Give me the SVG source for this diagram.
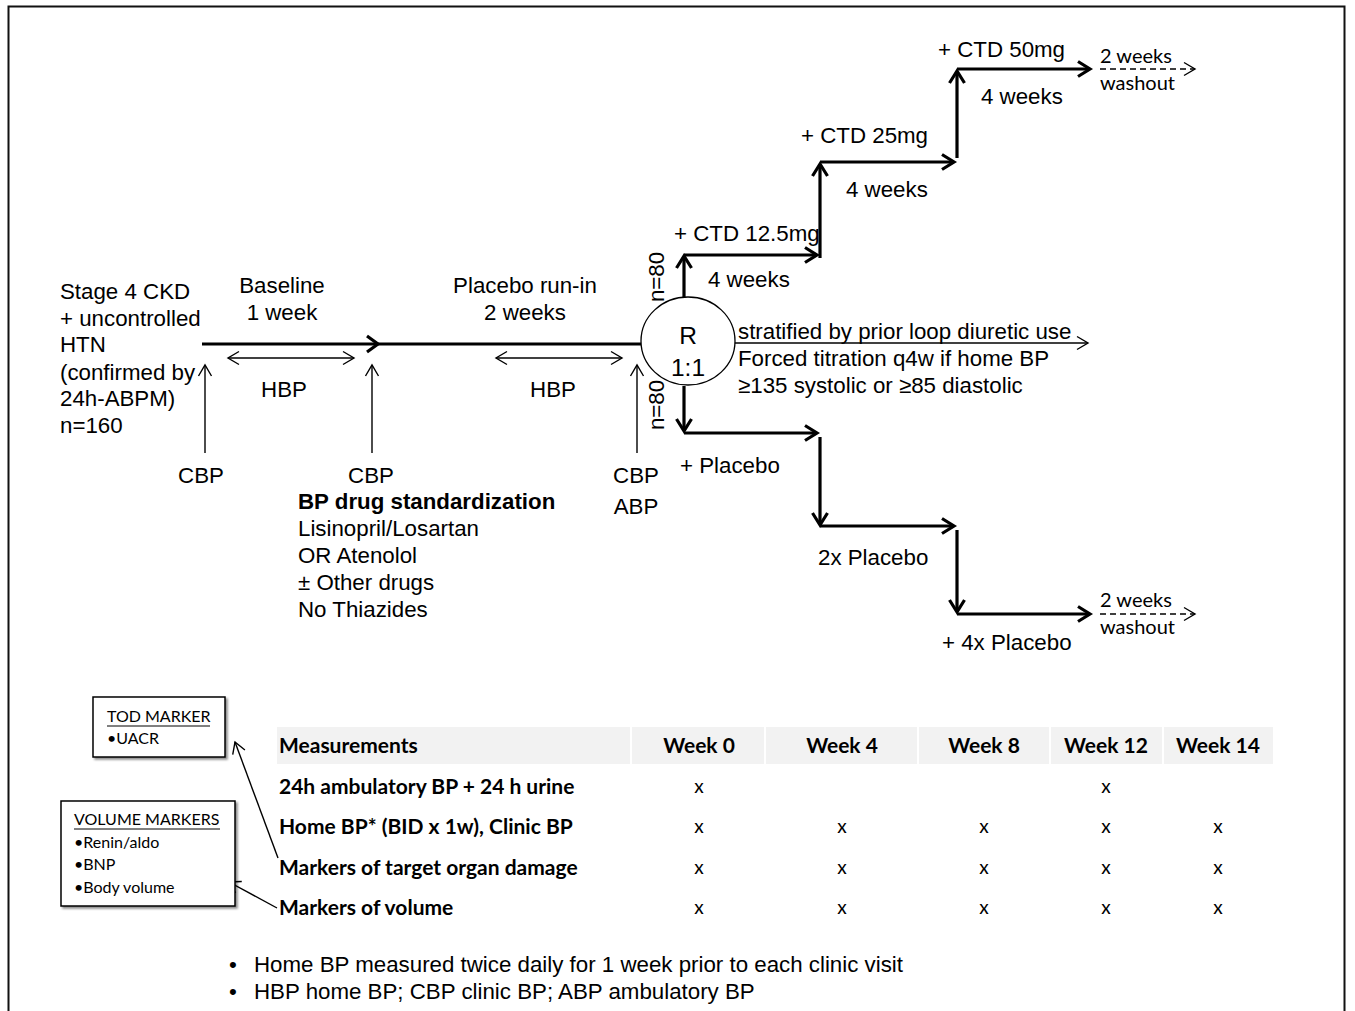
<svg xmlns="http://www.w3.org/2000/svg" width="1355" height="1011" viewBox="0 0 1355 1011">
<style>
.t{font-family:"Liberation Sans",Arial,sans-serif;font-size:22.3px;fill:#000}
.c{text-anchor:middle}
.b{font-weight:bold}
.big{font-size:24.5px}
.k{font-family:Lato,"Open Sans",sans-serif;fill:#000}
.th{font-size:21px;font-weight:bold}
.tc{font-size:19px}
.sm{font-size:20px}
.thick{stroke:#000;stroke-width:3.2;fill:none}
.thin{stroke:#000;stroke-width:1.4;fill:none}
.dash{stroke:#000;stroke-width:1.4;fill:none;stroke-dasharray:6 4}
.box{fill:#fff;stroke:#000;stroke-width:1.5}
.hd{fill:#f2f2f2}
</style>
<defs>
<marker id="ah" markerUnits="userSpaceOnUse" viewBox="-16 -10 20 20" markerWidth="20" markerHeight="20" refX="0" refY="0" orient="auto">
<path d="M-12,-7.5 L0,0 L-12,7.5" fill="none" stroke="#000" stroke-width="3.2"/>
</marker>
<marker id="at" markerUnits="userSpaceOnUse" viewBox="-14 -9 18 18" markerWidth="18" markerHeight="18" refX="0" refY="0" orient="auto">
<path d="M-11,-6.5 L0,0 L-11,6.5" fill="none" stroke="#000" stroke-width="1.4"/>
</marker>
<marker id="at2" markerUnits="userSpaceOnUse" viewBox="-14 -9 18 18" markerWidth="18" markerHeight="18" refX="0" refY="0" orient="auto-start-reverse">
<path d="M-11,-6.5 L0,0 L-11,6.5" fill="none" stroke="#000" stroke-width="1.4"/>
</marker>
<filter id="sh" x="-10%" y="-10%" width="130%" height="130%">
<feDropShadow dx="2" dy="2" stdDeviation="1.2" flood-color="#000" flood-opacity="0.45"/>
</filter>
</defs>

<rect x="8.5" y="6.5" width="1336" height="1020" fill="none" stroke="#111" stroke-width="2"/>

<g id="connectors">
<line class="thick" x1="202" y1="344" x2="641" y2="344"/>
<path class="thick" d="M367,336 L378,344 L367,352"/>
<line class="thin" x1="228" y1="358" x2="354" y2="358" marker-start="url(#at2)" marker-end="url(#at)"/>
<line class="thin" x1="496" y1="358" x2="622" y2="358" marker-start="url(#at2)" marker-end="url(#at)"/>
<line class="thin" x1="205" y1="453" x2="205" y2="365" marker-end="url(#at)"/>
<line class="thin" x1="372" y1="453" x2="372" y2="365" marker-end="url(#at)"/>
<line class="thin" x1="637" y1="453" x2="637" y2="365" marker-end="url(#at)"/>
<line class="thin" x1="735" y1="343" x2="1088" y2="343" marker-end="url(#at)"/>
<line class="thick" x1="684" y1="298" x2="684" y2="256" marker-end="url(#ah)"/>
<line class="thick" x1="684" y1="255" x2="817" y2="255" marker-end="url(#ah)"/>
<line class="thick" x1="820" y1="258" x2="820" y2="164" marker-end="url(#ah)"/>
<line class="thick" x1="820" y1="162" x2="954" y2="162" marker-end="url(#ah)"/>
<line class="thick" x1="957" y1="158" x2="957" y2="71" marker-end="url(#ah)"/>
<line class="thick" x1="957" y1="69" x2="1090" y2="69" marker-end="url(#ah)"/>
<line class="dash" x1="1100" y1="69" x2="1195" y2="69" marker-end="url(#at)"/>
<line class="thick" x1="684" y1="386" x2="684" y2="431" marker-end="url(#ah)"/>
<line class="thick" x1="684" y1="433" x2="817" y2="433" marker-end="url(#ah)"/>
<line class="thick" x1="820" y1="437" x2="820" y2="525" marker-end="url(#ah)"/>
<line class="thick" x1="820" y1="526" x2="954" y2="526" marker-end="url(#ah)"/>
<line class="thick" x1="957" y1="530" x2="957" y2="612" marker-end="url(#ah)"/>
<line class="thick" x1="957" y1="614" x2="1090" y2="614" marker-end="url(#ah)"/>
<line class="dash" x1="1100" y1="614" x2="1195" y2="614" marker-end="url(#at)"/>
<line class="thin" x1="278" y1="858" x2="235" y2="742" marker-end="url(#at)"/>
<line class="thin" x1="277" y1="908" x2="229" y2="882" marker-end="url(#at)"/>
</g>

<g id="population">
<text class="t" x="60" y="299">Stage 4 CKD</text>
<text class="t" x="60" y="326">+ uncontrolled</text>
<text class="t" x="60" y="352">HTN</text>
<text class="t" x="60" y="380">(confirmed by</text>
<text class="t" x="60" y="406">24h-ABPM)</text>
<text class="t" x="60" y="433">n=160</text>
</g>

<g id="baseline">
<text class="t c" x="282" y="293">Baseline</text>
<text class="t c" x="282" y="320">1 week</text>
<text class="t c" x="284" y="397">HBP</text>
</g>

<g id="runin">
<text class="t c" x="525" y="293">Placebo run-in</text>
<text class="t c" x="525" y="320">2 weeks</text>
<text class="t c" x="553" y="397">HBP</text>
</g>

<g id="cbp1"><text class="t c" x="201" y="483">CBP</text></g>
<g id="cbp2"><text class="t c" x="371" y="483">CBP</text></g>
<g id="cbp3">
<text class="t c" x="636" y="483">CBP</text>
<text class="t c" x="636" y="514">ABP</text>
</g>

<g id="standardization">
<text class="t b" x="298" y="509">BP drug standardization</text>
<text class="t" x="298" y="536">Lisinopril/Losartan</text>
<text class="t" x="298" y="563">OR Atenolol</text>
<text class="t" x="298" y="590">± Other drugs</text>
<text class="t" x="298" y="617">No Thiazides</text>
</g>

<g id="randomization">
<ellipse cx="688" cy="341" rx="47" ry="44" fill="#fff" stroke="#000" stroke-width="1.3"/>
<text class="t c big" x="688" y="344">R</text>
<text class="t c big" x="688" y="376">1:1</text>
<text class="t c" transform="translate(664,277) rotate(-90)">n=80</text>
<text class="t c" transform="translate(664,405) rotate(-90)">n=80</text>
</g>

<g id="stratification">
<text class="t" x="738" y="339">stratified by prior loop diuretic use</text>
<text class="t" x="738" y="366">Forced titration q4w if home BP</text>
<text class="t" x="738" y="393">≥135 systolic or ≥85 diastolic</text>
</g>

<g id="ctd">
<text class="t" x="674" y="241">+ CTD 12.5mg</text>
<text class="t" x="708" y="287">4 weeks</text>
<text class="t" x="801" y="143">+ CTD 25mg</text>
<text class="t" x="846" y="197">4 weeks</text>
<text class="t" x="938" y="57">+ CTD 50mg</text>
<text class="t" x="981" y="104">4 weeks</text>
<text class="k sm" x="1100" y="63">2 weeks</text>
<text class="k sm" x="1100" y="90">washout</text>
</g>

<g id="placebo">
<text class="t" x="680" y="473">+ Placebo</text>
<text class="t" x="818" y="565">2x Placebo</text>
<text class="t" x="942" y="650">+ 4x Placebo</text>
<text class="k sm" x="1100" y="607">2 weeks</text>
<text class="k sm" x="1100" y="634">washout</text>
</g>

<g id="tod-marker">
<rect class="box" x="93" y="697" width="132" height="60" filter="url(#sh)"/>
<text class="k" font-size="16" x="107" y="722">TOD MARKER</text>
<line x1="107" y1="726" x2="210" y2="726" stroke="#000" stroke-width="1"/>
<text class="k" font-size="16" x="107" y="744">•UACR</text>
</g>

<g id="volume-markers">
<rect class="box" x="61" y="801" width="174" height="105" filter="url(#sh)"/>
<text class="k" font-size="16" x="74" y="825">VOLUME MARKERS</text>
<line x1="74" y1="829" x2="220" y2="829" stroke="#000" stroke-width="1"/>
<text class="k" font-size="16" x="74" y="848">•Renin/aldo</text>
<text class="k" font-size="16" x="74" y="870">•BNP</text>
<text class="k" font-size="16" x="74" y="893">•Body volume</text>
</g>

<g id="table">
<rect class="hd" x="277" y="727" width="353" height="37"/>
<rect class="hd" x="632" y="727" width="132" height="37"/>
<rect class="hd" x="766" y="727" width="151" height="37"/>
<rect class="hd" x="919" y="727" width="130" height="37"/>
<rect class="hd" x="1051" y="727" width="111" height="37"/>
<rect class="hd" x="1164" y="727" width="109" height="37"/>
<text class="k th" x="279" y="753">Measurements</text>
<text class="k th c" x="699" y="753">Week 0</text>
<text class="k th c" x="842" y="753">Week 4</text>
<text class="k th c" x="984" y="753">Week 8</text>
<text class="k th c" x="1106" y="753">Week 12</text>
<text class="k th c" x="1218" y="753">Week 14</text>
<text class="k th" x="279" y="794">24h ambulatory BP + 24 h urine</text>
<text class="k th" x="279" y="834">Home BP* (BID x 1w), Clinic BP</text>
<text class="k th" x="279" y="875">Markers of target organ damage</text>
<text class="k th" x="279" y="915">Markers of volume</text>
<text class="k tc c" x="699" y="793">x</text>
<text class="k tc c" x="1106" y="793">x</text>
<text class="k tc c" x="699" y="833">x</text>
<text class="k tc c" x="842" y="833">x</text>
<text class="k tc c" x="984" y="833">x</text>
<text class="k tc c" x="1106" y="833">x</text>
<text class="k tc c" x="1218" y="833">x</text>
<text class="k tc c" x="699" y="874">x</text>
<text class="k tc c" x="842" y="874">x</text>
<text class="k tc c" x="984" y="874">x</text>
<text class="k tc c" x="1106" y="874">x</text>
<text class="k tc c" x="1218" y="874">x</text>
<text class="k tc c" x="699" y="914">x</text>
<text class="k tc c" x="842" y="914">x</text>
<text class="k tc c" x="984" y="914">x</text>
<text class="k tc c" x="1106" y="914">x</text>
<text class="k tc c" x="1218" y="914">x</text>
</g>

<g id="notes">
<text class="t" x="229" y="972">•</text>
<text class="t" x="254" y="972">Home BP measured twice daily for 1 week prior to each clinic visit</text>
<text class="t" x="229" y="999">•</text>
<text class="t" x="254" y="999">HBP home BP; CBP clinic BP; ABP ambulatory BP</text>
</g>
</svg>
